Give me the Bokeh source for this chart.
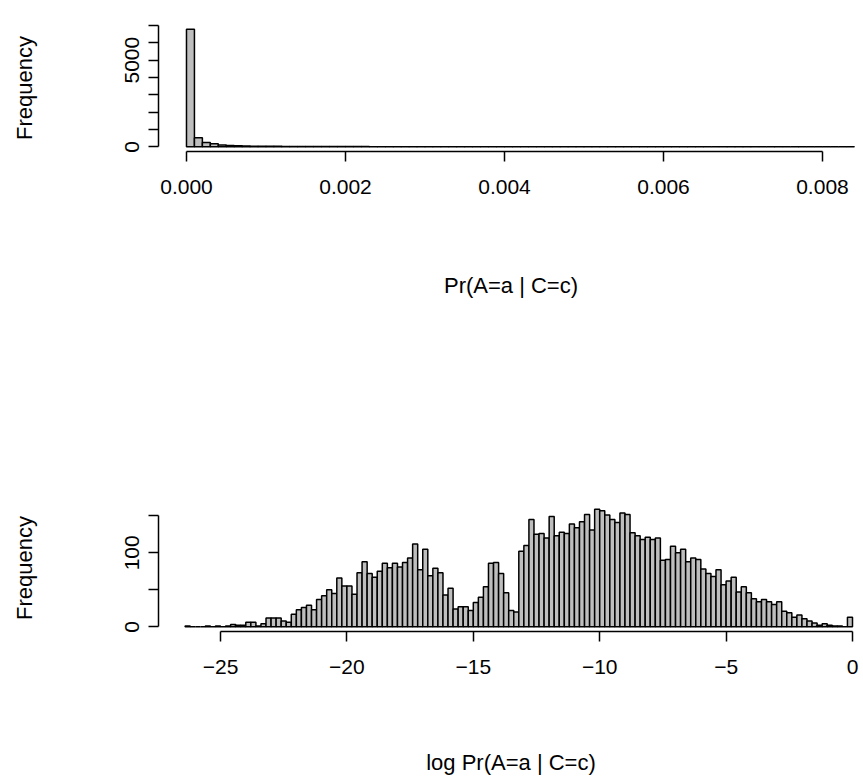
import numpy as np
from bokeh.plotting import figure
from bokeh.layouts import column
from bokeh.models import Range1d, FixedTicker, ColumnDataSource
from bokeh.embed import file_html
from bokeh.resources import INLINE

# ---------------- data ----------------
# Top histogram: Pr(A=a | C=c), bins of width 0.0001 starting at 0
top_bin_start = 0.0
top_bin_width = 0.0001
top_counts = [6784, 520, 250, 170, 110, 75, 55, 45, 38, 32, 28, 25, 22, 20, 18, 16,
              15, 14, 13, 12, 11, 10, 10, 9, 9, 8, 8, 7, 7, 6, 6, 6, 5, 5, 5, 2,
              5, 4, 4, 4, 2, 4, 3, 1, 2, 3, 3, 3, 1, 3, 1, 1, 2, 1, 1, 3, 1, 1, 3,
              2, 2, 1, 1, 1, 1, 1, 0, 1, 1, 2, 1, 1, 0, 1, 1, 0, 1, 1, 0, 1, 0, 1,
              0, 1]
top_xticks = [0.0, 0.002, 0.004, 0.006, 0.008]
top_xlabels = ["0.000", "0.002", "0.004", "0.006", "0.008"]
top_yticks = [0, 1000, 2000, 3000, 4000, 5000, 6000, 7000]
top_ylabels = ["0", "", "", "", "", "5000", "", ""]

# Bottom histogram: log Pr(A=a | C=c), bins of width 0.2 starting at -26.4
bot_bin_start = -26.4
bot_bin_width = 0.2
bot_counts = [1, 0, 0, 0, 1, 0, 1, 0, 1, 3, 2, 2, 6, 6, 1, 4, 12, 12, 12, 8,
              6, 17, 23, 26, 29, 23, 37, 42, 50, 45, 66, 55, 55, 44, 73, 88, 72, 67,
              75, 86, 80, 86, 81, 87, 93, 112, 77, 105, 69, 79, 73, 43, 52, 24, 27,
              27, 22, 33, 40, 54, 86, 87, 72, 46, 22, 20, 102, 110, 145, 125, 126,
              120, 149, 123, 128, 126, 139, 134, 142, 152, 131, 159, 157, 151, 145,
              141, 154, 152, 127, 123, 118, 121, 118, 120, 90, 91, 109, 100, 105,
              88, 93, 91, 78, 72, 68, 77, 57, 62, 67, 47, 54, 46, 38, 34, 37, 34,
              30, 34, 21, 19, 13, 16, 11, 8, 5, 2, 4, 2, 1, 1, 0, 13]
bot_xticks = [-25, -20, -15, -10, -5, 0]
bot_xlabels = ["\u221225", "\u221220", "\u221215", "\u221210", "\u22125", "0"]
bot_yticks = [0, 50, 100, 150]
bot_ylabels = ["0", "", "100", ""]

FONT = "Liberation Sans"
FS = "21px"
FS_LAB = "22px"
LW = 1.5
FILL = "#BEBEBE"


def style(p, xticks, xlabels, yticks, ylabels, xlabel, xlab_standoff):
    p.xgrid.visible = False
    p.ygrid.visible = False
    p.outline_line_color = None
    p.background_fill_color = "white"
    p.border_fill_color = "white"
    for ax in (p.xaxis[0], p.yaxis[0]):
        ax.axis_line_width = LW
        ax.axis_line_color = "black"
        ax.major_tick_line_width = LW
        ax.major_tick_line_color = "black"
        ax.major_tick_in = 0
        ax.major_tick_out = 10
        ax.minor_tick_line_color = None
        ax.major_label_text_font = FONT
        ax.major_label_text_font_size = FS
        ax.major_label_text_color = "black"
        ax.axis_label_text_font = FONT
        ax.axis_label_text_font_size = FS_LAB
        ax.axis_label_text_font_style = "normal"
        ax.axis_label_text_color = "black"
    xa = p.xaxis[0]
    xa.ticker = FixedTicker(ticks=xticks)
    xa.major_label_overrides = dict(zip(xticks, xlabels))
    xa.bounds = (min(xticks), max(xticks))
    xa.axis_label = xlabel
    xa.major_label_standoff = 18
    xa.axis_label_standoff = xlab_standoff
    ya = p.yaxis[0]
    ya.ticker = FixedTicker(ticks=yticks)
    ya.major_label_overrides = dict(zip(yticks, ylabels))
    ya.bounds = (min(yticks), max(yticks))
    ya.axis_label = "Frequency"
    ya.major_label_orientation = "vertical"
    ya.major_label_standoff = 9
    ya.axis_label_standoff = 86


def hist(p, start, width, counts):
    n = len(counts)
    left = [start + width * i for i in range(n)]
    right = [start + width * (i + 1) for i in range(n)]
    src = ColumnDataSource(dict(left=left, right=right, top=counts,
                                bottom=[0] * n))
    p.quad(left="left", right="right", top="top", bottom="bottom", source=src,
           fill_color=FILL, line_color="black", line_width=LW)


# ---------------- top ----------------
tmax = max(top_counts)
p1 = figure(width=863, height=392, output_backend="svg", toolbar_location=None,
            x_range=Range1d(-0.000352, 0.008516),
            y_range=Range1d(-0.04 * tmax, 1.04 * tmax),
            min_border_left=158, min_border_right=0,
            min_border_top=24, min_border_bottom=241)
hist(p1, top_bin_start, top_bin_width, top_counts)
style(p1, top_xticks, top_xlabels, top_yticks, top_ylabels, "Pr(A=a | C=c)", 76)

# ---------------- bottom ----------------
bmax = max(bot_counts)
p2 = figure(width=863, height=392, output_backend="svg", toolbar_location=None,
            x_range=Range1d(-27.453, 0.435),
            y_range=Range1d(-0.04 * bmax, 1.04 * bmax),
            min_border_left=158, min_border_right=0,
            min_border_top=112, min_border_bottom=153)
hist(p2, bot_bin_start, bot_bin_width, bot_counts)
style(p2, bot_xticks, bot_xlabels, bot_yticks, bot_ylabels, "log Pr(A=a | C=c)", 73)

layout = column(p1, p2, spacing=0)
open("out.html", "w").write(file_html(layout, INLINE))
